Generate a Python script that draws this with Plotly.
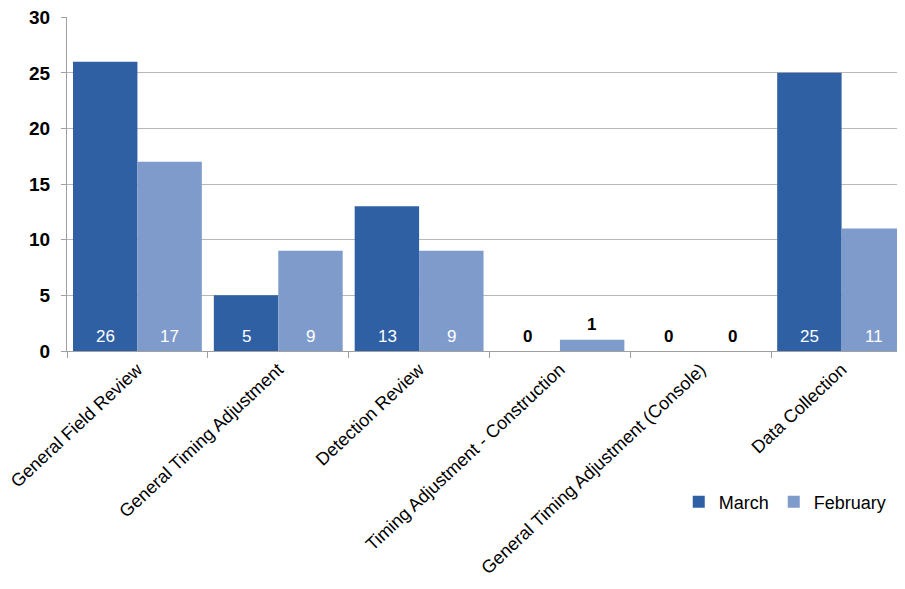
import plotly.graph_objects as go

categories = ["General Field Review", "General Timing Adjustment", "Detection Review",
              "Timing Adjustment - Construction", "General Timing Adjustment (Console)",
              "Data Collection"]
march = [26, 5, 13, 0, 0, 25]
february = [17, 9, 9, 1, 0, 11]
y_ticks = [0, 5, 10, 15, 20, 25, 30]

FONT = "Liberation Sans, Arial"

fig = go.Figure()
fig.add_trace(go.Bar(name="March", x=categories, y=march,
                     marker=dict(color="#2f60a4", line=dict(width=0))))
fig.add_trace(go.Bar(name="February", x=categories, y=february,
                     marker=dict(color="#7f9bcb", line=dict(width=0))))

# value labels: inside at the base (white) for tall bars, above the bar (bold black) for small ones
annotations = []
for series, shift in ((march, -32), (february, 32)):
    for cat, v in zip(categories, series):
        inside = v >= 5
        annotations.append(dict(
            x=cat, y=0 if inside else v, xref="x", yref="y", text=str(v),
            showarrow=False, xshift=shift, yshift=15, yanchor="middle",
            font=dict(family=FONT, size=17,
                      color="white" if inside else "black",
                      weight="normal" if inside else "bold"),
        ))

fig.update_layout(
    width=897, height=573,
    margin=dict(l=59, r=0, t=9, b=230),
    paper_bgcolor="white", plot_bgcolor="rgba(0,0,0,0)",
    barmode="group", bargap=0.085, bargroupgap=0,
    font=dict(family=FONT, color="black"),
    annotations=annotations,
    showlegend=True,
    legend=dict(orientation="h", x=0.73, xanchor="left", y=-0.452, yanchor="middle",
                font=dict(size=18, family=FONT), bgcolor="rgba(0,0,0,0)",
                itemwidth=30, traceorder="normal"),
    xaxis=dict(
        type="category", tickangle=-43, tickson="boundaries", ticks="outside", ticklen=6,
        tickcolor="#a0a0a0", showline=True, linecolor="#a0a0a0", linewidth=1,
        tickfont=dict(size=18, family=FONT), showgrid=False, automargin=False,
        range=[-0.5, 5.45],
    ),
    yaxis=dict(
        range=[0, 30.02], tickvals=y_ticks, ticks="outside", ticklen=5, tickcolor="#a0a0a0",
        showline=True, linecolor="#a0a0a0", linewidth=1, gridcolor="#b8b8b8", gridwidth=1,
        tickfont=dict(size=19, family=FONT, weight="bold"), zeroline=False,
        automargin=False, ticklabelstandoff=7, ticklabeloverflow="allow",
    ),
)

fig.write_html("out.html")
